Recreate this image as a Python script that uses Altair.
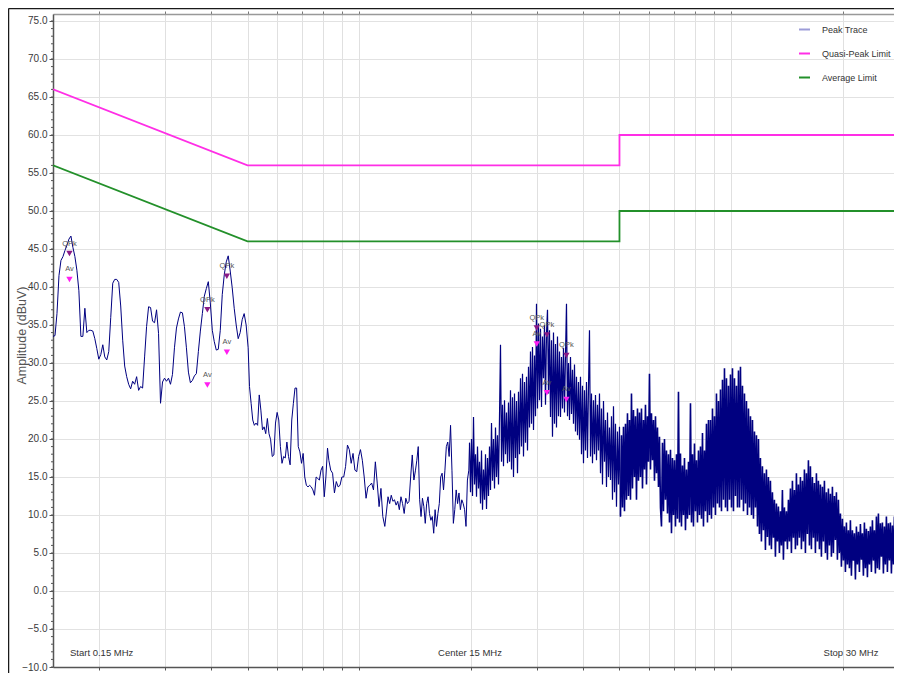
import numpy as np
import pandas as pd
import altair as alt

# ---------------- data ----------------
# Peak trace, piecewise sweep segments: (start MHz, stop MHz, amplitudes dBuV)
seg_a = [33.5, 33.6, 36.5, 41.5, 43.5, 44.0, 44.8, 45.5, 46.3, 46.7,
         45.2, 44.0, 42.2, 39.5, 33.5, 33.5, 37.2, 34.0, 34.3, 34.3,
         34.2, 33.2, 31.9, 30.5, 31.1, 32.4, 30.8, 30.4, 31.5, 36.0,
         40.5, 41.0, 41.0, 40.6, 37.5, 33.0, 29.6, 28.2, 27.2, 26.6,
         27.6, 27.2, 28.2, 26.4, 26.9, 26.7, 30.8, 34.8, 37.4, 37.3,
         35.5, 35.3, 37.0, 33.9, 24.7, 27.5, 28.0, 27.6, 28.0, 27.2,
         28.5, 32.0, 34.6, 35.8, 36.7, 36.6, 34.8, 32.0, 28.8, 27.4,
         27.7, 28.3, 28.6, 31.5, 34.2, 36.5, 38.8, 39.8, 40.7, 37.9,
         34.3, 32.8, 31.7, 31.8, 34.3, 39.0, 41.6, 43.3, 44.1, 42.1,
         39.9, 37.2, 35.0, 33.2, 34.0, 35.7, 36.5, 35.0, 32.0]
seg_b1 = [26.9, 24.7, 22.5, 21.8, 22.1, 21.8, 25.8, 23.8, 21.2, 21.6,
          20.7, 22.7, 20.7, 19.9, 17.7, 17.9, 22.1, 23.5, 22.5, 19.0,
          16.8, 17.7, 17.5, 19.6, 17.7, 16.6, 22.5, 24.7, 26.7, 26.7,
          19.0, 18.3, 16.8, 18.1, 15.0, 13.9, 13.7, 13.9, 13.7, 13.3,
          12.6, 15.0, 14.8, 14.6, 15.9, 16.4, 12.4, 15.0, 18.8]
seg_b2 = [17.2, 15.9, 15.5, 12.9, 14.4, 13.7, 13.9, 15.0, 15.0, 16.4,
          19.2, 18.6, 16.8, 18.1, 15.9, 15.7, 17.7, 18.6, 17.2, 15.0,
          12.2, 13.7, 13.9, 14.2, 13.3, 17.0, 14.2, 11.1, 13.5, 9.8]
seg_b3 = [8.5, 10.4, 12.4, 11.5, 12.6, 11.8, 12.0, 11.3, 11.8, 10.7,
          12.4, 11.5, 10.2, 12.2, 11.5, 11.8, 15.0, 17.9, 14.6, 15.9]
seg_b4 = [17.2, 19.0, 12.0, 9.8, 12.2, 11.1, 8.9, 11.5, 12.4, 10.2,
          9.3, 9.8, 7.6, 10.7, 8.5, 10.2, 11.5, 15.0, 15.5, 13.3,
          15.9, 19.0, 19.6, 17.7, 21.8, 15.9, 8.9, 10.7, 13.3, 11.5,
          12.9, 10.7, 12.0, 11.5, 10.7, 8.5, 14.6, 15.9]
seg_c = [19.5, 13.0, 20.0, 12.5, 22.9, 14.0, 18.0, 12.4, 19.0, 13.5,
         17.0, 11.5, 18.5, 10.7, 16.0, 12.0, 18.0, 10.8, 17.5, 12.5,
         19.0, 13.3, 22.1, 14.5, 20.0, 13.5, 21.5, 15.0, 20.5, 14.0,
         23.0, 32.4, 17.0, 24.5, 16.4, 25.1, 18.0, 23.5, 16.8, 24.8,
         17.0, 26.4, 16.0, 25.5, 15.0, 26.0, 17.5, 25.0, 15.5, 26.2,
         18.0, 28.0, 19.0, 28.6, 17.7, 27.5, 19.5, 28.2, 18.5, 29.5,
         21.5, 31.5, 22.0, 32.1, 21.2, 31.0, 23.0, 37.8, 24.0, 35.2,
         25.1, 34.5, 24.2, 33.5, 28.0, 35.0, 24.5, 33.8, 37.0, 26.0,
         34.3, 22.9, 33.0, 20.3, 34.0, 22.0, 32.5, 21.5, 33.5, 23.0,
         31.5, 22.9, 30.8, 24.0, 32.0, 23.5, 31.0, 37.8, 23.0, 30.0,
         22.5, 30.8, 23.3, 29.1, 22.0, 29.8, 21.0, 28.2, 20.5, 27.5,
         19.9, 28.2, 18.0, 27.0, 16.8, 26.4, 18.5, 27.5, 17.5, 26.8,
         34.3, 17.7, 26.0, 16.8, 25.1, 18.0, 25.8, 17.2, 24.5, 18.5,
         26.0, 15.5, 24.0, 14.0, 25.0, 17.0, 22.5, 13.7, 23.5, 15.0,
         21.5, 14.6, 23.0, 12.0, 24.3, 13.0, 22.0, 11.1, 21.0, 14.0,
         21.6]
seg_d = [9.8, 20.5, 11.0, 21.6, 10.5, 22.0, 12.0, 23.4, 12.5,
         22.5, 12.0, 26.0, 13.5, 23.8, 15.0, 23.0, 12.0, 24.0, 14.5,
         23.5, 15.0, 24.0, 13.5, 22.5, 16.0, 24.5, 14.0, 23.0, 17.0,
         28.6, 16.0, 23.4, 17.2, 22.5, 14.5, 23.0, 15.5, 21.5, 13.7,
         20.3, 11.0, 8.5, 19.5, 10.5, 20.0, 12.0, 18.5, 10.2, 18.0,
         9.0, 18.6, 7.6, 17.5, 10.0, 17.2, 8.5, 18.0, 9.5, 26.2,
         9.0, 18.1, 8.5, 16.5, 10.0, 17.5, 8.0, 16.0, 9.5, 17.0,
         10.0, 24.7, 9.0, 18.0, 8.5, 19.4, 10.5, 17.2, 9.0, 18.5,
         10.0, 19.0, 9.5, 20.8, 8.5, 18.5, 10.5, 22.0, 9.0, 22.5,
         10.0, 22.5, 9.5, 24.0, 11.0, 23.0, 10.0, 26.0, 11.5, 25.0,
         11.0, 26.5, 10.5, 27.8, 12.0, 29.3, 11.0, 28.0, 10.5, 27.0,
         12.0, 28.5, 11.0, 29.3, 10.5, 28.0, 12.5, 27.0, 11.0, 29.0,
         11.0, 29.5, 12.0, 27.0, 10.5, 26.0, 11.5, 25.0, 10.0, 24.0,
         11.0, 23.0, 10.0, 22.5, 9.5, 21.0, 11.0, 20.5, 8.5, 20.0]
seg_e = [7.5, 17.5, 6.5, 16.4, 8.0, 15.5, 5.4, 16.0, 7.1, 15.0,
         6.0, 14.5, 5.5, 13.0, 7.0, 12.0, 4.5, 11.5, 6.5, 11.1,
         5.0, 10.5, 6.0, 13.3, 4.1, 11.0, 6.5, 10.5, 5.5, 12.0,
         6.5, 13.5, 5.0, 14.5, 7.0, 13.3, 5.5, 15.5, 6.0, 14.0,
         7.0, 15.0, 5.5, 14.5, 6.5, 16.0, 5.0, 15.5, 7.5, 17.2,
         6.0, 16.4, 5.5, 15.0, 7.0, 14.2, 5.0, 15.5, 6.5, 14.5,
         5.5, 14.0, 4.5, 13.7, 6.5, 14.5, 5.0, 13.0, 4.1, 13.5,
         6.0, 12.8, 4.5, 13.7, 5.0, 12.5, 6.7, 13.0, 4.1, 12.0,
         5.0, 10.2, 3.2, 9.5, 4.0, 8.5, 2.5, 9.0, 3.5, 8.0,
         3.0, 9.3, 2.0, 8.0, 4.0, 7.6, 1.5, 8.5, 3.5, 7.8,
         2.5, 8.8, 4.1, 7.6, 2.0, 9.0, 3.0, 8.2, 1.8, 7.9,
         3.5, 8.5, 2.5, 9.3, 4.0, 8.0, 2.3, 9.8, 3.0, 10.2,
         2.8, 8.9, 4.5, 9.0, 2.3, 8.5, 3.5, 9.8, 2.5, 8.9,
         4.0, 9.0, 2.3, 8.6, 3.5, 9.8, 2.8, 9.0, 4.5, 8.5,
         3.0, 9.2, 2.5, 8.8, 4.0, 9.0, 3.2, 8.4, 2.8, 9.5]
# (start MHz, stop MHz, values, drawing group)
segments = [(0.150, 0.502, seg_a, "sparse"), (0.5062, 0.8205, seg_b1, "sparse"),
            (0.8273, 1.1553, seg_b2, "sparse"), (1.1697, 1.4145, seg_b3, "sparse"),
            (1.4262, 1.9676, seg_b4, "sparse"), (1.976, 5.0, seg_c, "mid"),
            (5.031, 11.82, seg_d, "dense"), (11.89, 29.9, seg_e, "dense")]

# Limit lines
limit_names = ["Quasi-Peak Limit", "Average Limit"]
limit_f = [0.15, 0.5, 5.0, 5.0, 30.0]
qp_limit = [66.0, 56.0, 56.0, 60.0, 60.0]
av_limit = [56.0, 46.0, 46.0, 50.0, 50.0]

# Detector markers
marker_f = [0.1661, 0.390, 0.440, 2.996, 3.19, 3.60]
qpk_vals = [44.4, 37.0, 41.4, 34.6, 33.7, 31.0]
av_vals = [41.0, 27.1, 31.4, 32.5, 26.1, 25.2]

series_names = ["Peak Trace", "Quasi-Peak Limit", "Average Limit"]
series_colors = ["#9d9dd8", "#ff2ee6", "#23902a"]

x_grid = [0.2, 0.3, 0.4, 0.5, 0.6, 0.7, 0.8, 0.9, 1, 2, 3, 4, 5, 6, 7, 8, 9, 10, 20]
y_major = [-10, -5, 0, 5, 10, 15, 20, 25, 30, 35, 40, 45, 50, 55, 60, 65, 70, 75]
y_minor = list(range(-10, 76))
note_texts = ["Start 0.15 MHz", "Center 15 MHz", "Stop 30 MHz"]
y_title = "Amplitude (dBuV)"

# ---------------- tables ----------------
groups = {"sparse": [], "mid": [], "dense": []}
for f0, f1, vals, g in segments:
    for f, v in zip(np.geomspace(f0, f1, len(vals)).tolist(), vals):
        groups[g].append((f, v))
# join the drawing groups so the trace stays continuous
groups["sparse"].append(groups["mid"][0])
groups["mid"].append(groups["dense"][0])
tr = {g: pd.DataFrame(rows, columns=["f", "a"]) for g, rows in groups.items()}

lim_rows = []
for name, vals in zip(limit_names, [qp_limit, av_limit]):
    for i, (f, v) in enumerate(zip(limit_f, vals)):
        lim_rows.append({"series": name, "f": f, "a": v, "idx": i})
limits = pd.DataFrame(lim_rows)

qpk = pd.DataFrame({"f": marker_f, "a": qpk_vals, "t": ["QPk"] * len(marker_f)})
avm = pd.DataFrame({"f": marker_f, "a": av_vals, "t": ["Av"] * len(marker_f)})
minor = pd.DataFrame({"v": y_minor})
one = pd.DataFrame({"d": [0]})

W, H = 841, 653
FR = "Liberation Sans"

xs = alt.Scale(type="log", domain=[0.15, 27.35], nice=False)
ys = alt.Scale(domain=[-10, 75.92], nice=False, zero=False)

trace_layer = alt.Chart(tr["sparse"]).mark_line(clip=True, strokeWidth=1, color="#000080").encode(
    x=alt.X("f:Q", scale=xs, axis=alt.Axis(
        orient="bottom", values=x_grid, labels=False, title=None, grid=True,
        gridColor="#e0e0e0", gridWidth=1, domainColor="#555555", domainWidth=1.5,
        tickColor="#555555", tickSize=3)),
    y=alt.Y("a:Q", scale=ys, axis=alt.Axis(
        values=y_major, format=".1f", labelFont=FR, labelFontSize=10,
        labelColor="#3a3a3a", labelPadding=2, tickSize=4, tickColor="#555555",
        domainColor="#555555", domainWidth=1.5, grid=True, gridColor="#e2e2e2",
        gridWidth=1.2, title=y_title, titleFont=FR, titleFontSize=12.5,
        titleFontWeight="normal", titleColor="#555555", titleX=-32, titleY=321,
        titleAngle=270, titleAlign="center", titleBaseline="middle")),
    order=alt.Order("f:Q"),
)
mid_layer = alt.Chart(tr["mid"]).mark_line(clip=True, strokeWidth=1.2, color="#000080").encode(
    x=alt.X("f:Q", scale=xs, axis=None), y=alt.Y("a:Q", scale=ys, axis=None),
    order=alt.Order("f:Q"))
dense_layer = alt.Chart(tr["dense"]).mark_line(clip=True, strokeWidth=1.6, color="#000080").encode(
    x=alt.X("f:Q", scale=xs, axis=None), y=alt.Y("a:Q", scale=ys, axis=None),
    order=alt.Order("f:Q"))

limit_layer = alt.Chart(limits).mark_line(clip=True, strokeWidth=1.8).encode(
    x=alt.X("f:Q", scale=xs, axis=alt.Axis(
        orient="top", values=x_grid, labels=False, title=None, grid=False,
        domainColor="#999999", domainWidth=1.5, tickColor="#777777", tickSize=3)),
    y=alt.Y("a:Q", scale=ys, axis=None),
    color=alt.Color("series:N", scale=alt.Scale(domain=series_names, range=series_colors),
                    legend=alt.Legend(orient="none", legendX=745, legendY=9, title=None,
                                      symbolType="stroke", symbolSize=121, symbolStrokeWidth=2,
                                      labelFont=FR, labelFontSize=9, labelColor="#333333",
                                      rowPadding=12, labelOffset=11, padding=0)),
    order=alt.Order("idx:Q"),
)

minor_layer = alt.Chart(minor).mark_rule(color="#555555", strokeWidth=1).encode(
    y=alt.Y("v:Q", scale=ys, axis=None), x=alt.value(-2), x2=alt.value(0))

qpk_pts = alt.Chart(qpk).mark_point(shape="triangle-down", filled=True, size=40,
                                     opacity=1, color="#8a1a86").encode(
    x=alt.X("f:Q", scale=xs, axis=None), y=alt.Y("a:Q", scale=ys, axis=None))
av_pts = alt.Chart(avm).mark_point(shape="triangle-down", filled=True, size=40,
                                    opacity=1, color="#ff1ef0").encode(
    x=alt.X("f:Q", scale=xs, axis=None), y=alt.Y("a:Q", scale=ys, axis=None))
qpk_txt = alt.Chart(qpk).mark_text(dy=-10, font=FR, fontSize=7.5, color="#555555").encode(
    x=alt.X("f:Q", scale=xs, axis=None), y=alt.Y("a:Q", scale=ys, axis=None), text="t:N")
av_txt = alt.Chart(avm).mark_text(dy=-10, font=FR, fontSize=7.5, color="#555555").encode(
    x=alt.X("f:Q", scale=xs, axis=None), y=alt.Y("a:Q", scale=ys, axis=None), text="t:N")

notes = []
for txt, px, al in zip(note_texts, [17, 417, 798], ["left", "center", "center"]):
    notes.append(alt.Chart(one).mark_text(align=al, baseline="middle", font=FR, fontSize=9.5,
                                          color="#333333").encode(
        x=alt.value(px), y=alt.value(639), text=alt.value(txt)))

frame_left = alt.Chart(one).mark_rule(color="#1a1a1a", strokeWidth=1.5).encode(
    x=alt.value(-44.5), y=alt.value(-5.5), y2=alt.value(H + 6))
frame_top = alt.Chart(one).mark_rule(color="#1a1a1a", strokeWidth=1.5).encode(
    x=alt.value(-44.5), x2=alt.value(W), y=alt.value(-5.5))

chart = alt.layer(trace_layer, mid_layer, dense_layer, limit_layer, minor_layer,
                  qpk_pts, av_pts, qpk_txt, av_txt,
                  *notes, frame_left, frame_top).resolve_axis(
    x="independent", y="independent").properties(
    width=W, height=H,
    autosize=alt.AutoSizeParams(type="none"),
    padding={"left": 45, "top": 6, "right": 0, "bottom": 6},
).configure_view(stroke=None).configure(background="white")

chart.save("out.html", embed_options={"renderer": "svg", "actions": False})
